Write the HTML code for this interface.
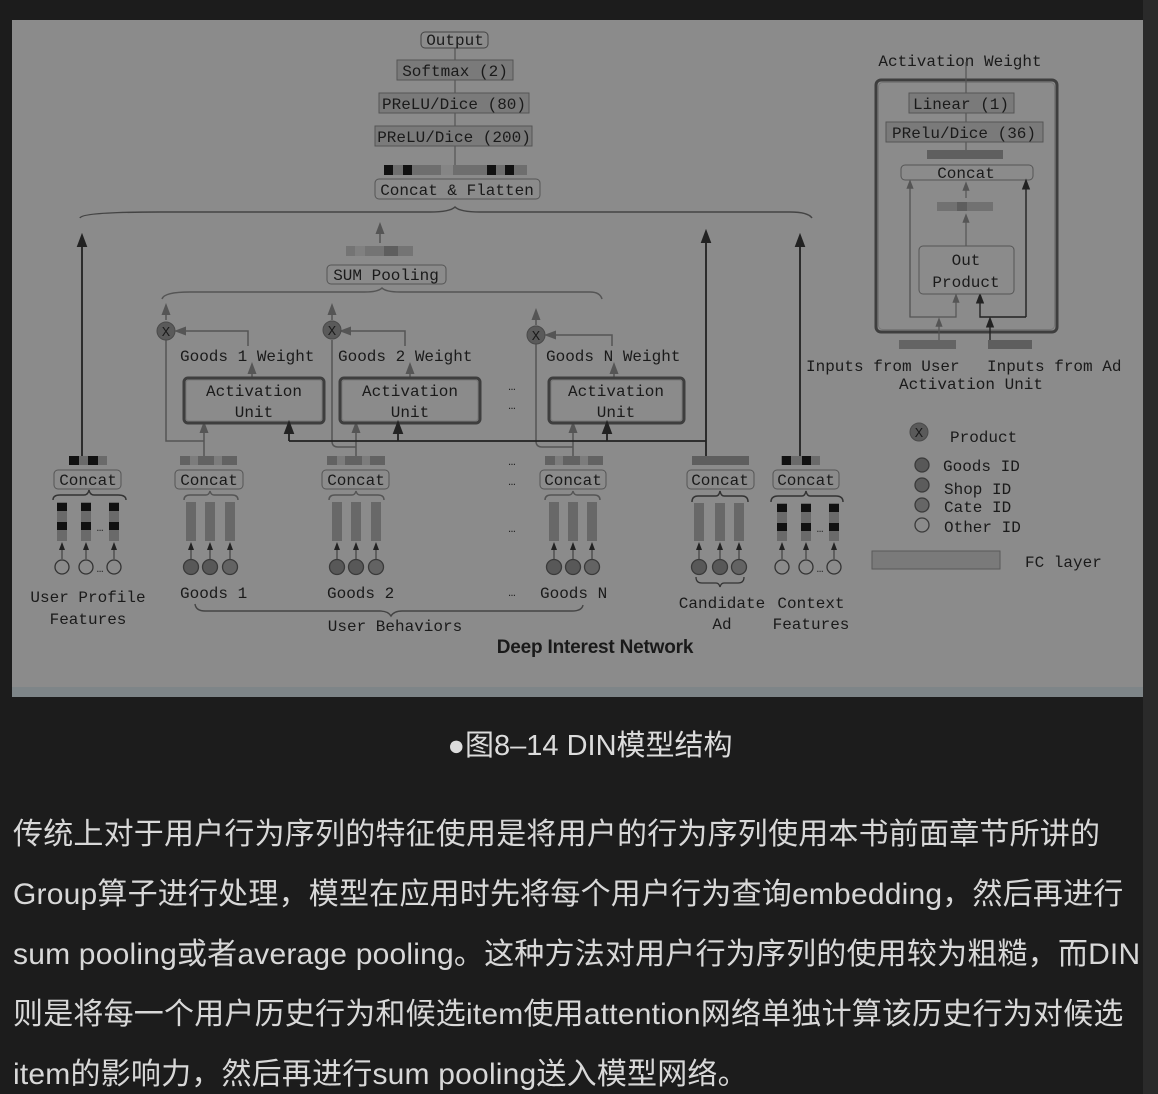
<!DOCTYPE html>
<html><head><meta charset="utf-8">
<style>
html,body{margin:0;padding:0;background:#1c1c1c;width:1158px;height:1094px;overflow:hidden;position:relative}
#strip{position:absolute;left:1143px;top:0;width:15px;height:1094px;background:#2a2a2a}
svg{position:absolute;left:0;top:0}
.cap{position:absolute;left:0;width:1180px;top:722px;text-align:center;color:#dcdcdc;font:29px "Liberation Sans","Noto Sans CJK SC",sans-serif}
.clip{position:absolute;left:13px;top:800px;width:1130px;height:294px;overflow:hidden}
.ln{position:absolute;left:0;white-space:nowrap;color:#d8d8d8;font:30px "Liberation Sans","Noto Sans CJK SC",sans-serif;letter-spacing:0.2px}
</style></head><body>
<div id="strip"></div>
<svg width="1158" height="700" viewBox="0 0 1158 700" font-family="Liberation Mono, monospace" font-size="16" fill="#1a1a1a">
<defs>
<marker id="a" markerWidth="8" markerHeight="8" refX="4" refY="4" orient="auto"><path d="M0,1 L8,4 L0,7z" fill="#222"/></marker>
<marker id="g" markerWidth="8" markerHeight="8" refX="4" refY="4" orient="auto"><path d="M0,1 L8,4 L0,7z" fill="#555"/></marker>
</defs>
<rect x="12" y="20" width="1131" height="677" fill="#8b8b8b"/>
<rect x="12" y="687" width="1131" height="10" fill="#7e8588"/>
<!-- top tower -->
<line x1="455" y1="48" x2="455" y2="165" stroke="#555" stroke-width="1.2"/>
<rect x="421" y="32" width="67" height="16" rx="4" fill="#8b8b8b" stroke="#444"/>
<text x="455" y="45" text-anchor="middle">Output</text>
<rect x="397" y="60" width="116" height="20" fill="#7a7a7a" stroke="#555"/>
<text x="455" y="76" text-anchor="middle">Softmax (2)</text>
<rect x="379" y="93" width="150" height="20" fill="#7a7a7a" stroke="#555"/>
<text x="454" y="109" text-anchor="middle">PReLU/Dice (80)</text>
<rect x="375" y="126" width="157" height="20" fill="#7a7a7a" stroke="#555"/>
<text x="454" y="142" text-anchor="middle">PReLU/Dice (200)</text>
<g>
<rect x="384" y="165" width="143" height="10" fill="#6e6e6e"/>
<rect x="384" y="165" width="9" height="10" fill="#111"/><rect x="403" y="165" width="9" height="10" fill="#111"/>
<rect x="441" y="165" width="12" height="10" fill="#858585"/><rect x="487" y="165" width="9" height="10" fill="#111"/><rect x="505" y="165" width="9" height="10" fill="#111"/>
</g>
<rect x="375" y="179" width="165" height="20" rx="4" fill="#8b8b8b" stroke="#555"/>
<text x="457" y="195" text-anchor="middle">Concat &amp; Flatten</text>
<path d="M80,218 Q82,212 160,212 L430,212 Q450,212 455,207 Q460,212 480,212 L790,212 Q808,212 812,218" fill="none" stroke="#444" stroke-width="1.5"/>
<!-- long arrows -->
<line x1="82" y1="456" x2="82" y2="240" stroke="#222" stroke-width="1.8" marker-end="url(#a)"/>
<line x1="706" y1="456" x2="706" y2="236" stroke="#222" stroke-width="1.8" marker-end="url(#a)"/>
<line x1="800" y1="456" x2="800" y2="240" stroke="#222" stroke-width="1.8" marker-end="url(#a)"/>
<!-- sum pooling -->
<rect x="346" y="246" width="67" height="10" fill="#747474"/>
<rect x="355" y="246" width="10" height="10" fill="#808080"/><rect x="384" y="246" width="14" height="10" fill="#5e5e5e"/>
<line x1="380" y1="243" x2="380" y2="228" stroke="#555" stroke-width="1.5" marker-end="url(#g)"/>
<rect x="327" y="265" width="119" height="19" rx="4" fill="#8b8b8b" stroke="#555"/>
<text x="386" y="280" text-anchor="middle">SUM Pooling</text>
<path d="M162,299 Q164,292 190,292 L365,292 Q378,292 382,288 Q386,292 400,292 L590,292 Q600,292 602,299" fill="none" stroke="#555" stroke-width="1.5"/>
<!-- X circles -->
<g stroke="#555" stroke-width="1.5" fill="none">
<line x1="166" y1="320" x2="166" y2="309" marker-end="url(#g)"/>
<line x1="332" y1="320" x2="332" y2="309" marker-end="url(#g)"/>
<line x1="536" y1="325" x2="536" y2="314" marker-end="url(#g)"/>
<path d="M248,346 L248,331 L180,331" marker-end="url(#g)"/>
<path d="M405,346 L405,331 L345,331" marker-end="url(#g)"/>
<path d="M612,346 L612,335 L550,335" marker-end="url(#g)"/>
<path d="M166,340 L166,441 L204,441"/>
<path d="M332,340 L332,441 Q332,447 338,447 L356,447"/>
<path d="M536,344 L536,441 Q536,447 542,447 L573,447"/>
<line x1="204" y1="456" x2="204" y2="427" marker-end="url(#g)"/>
<line x1="356" y1="456" x2="356" y2="427" marker-end="url(#g)"/>
<line x1="573" y1="456" x2="573" y2="427" marker-end="url(#g)"/>
<line x1="252" y1="378" x2="252" y2="368" marker-end="url(#g)"/>
<line x1="410" y1="378" x2="410" y2="368" marker-end="url(#g)"/>
<line x1="614" y1="378" x2="614" y2="368" marker-end="url(#g)"/>
</g>
<g fill="#5a5a5a" stroke="#4a4a4a"><circle cx="166" cy="331" r="9"/><circle cx="332" cy="330" r="9"/><circle cx="536" cy="335" r="9"/></g>
<g font-size="14" text-anchor="middle"><text x="166" y="336">X</text><text x="332" y="335">X</text><text x="536" y="340">X</text></g>
<text x="180" y="361">Goods 1 Weight</text>
<text x="338" y="361">Goods 2 Weight</text>
<text x="546" y="361">Goods N Weight</text>
<g fill="none" stroke="#3e3e3e" stroke-width="3">
<rect x="184" y="378" width="140" height="45" rx="4"/><rect x="340" y="378" width="140" height="45" rx="4"/><rect x="549" y="378" width="135" height="45" rx="4"/>
</g>
<g fill="none" stroke="#7a7a7a" stroke-width="1">
<rect x="186" y="380" width="136" height="41" rx="3"/><rect x="342" y="380" width="136" height="41" rx="3"/><rect x="551" y="380" width="131" height="41" rx="3"/>
</g>
<g text-anchor="middle"><text x="254" y="396">Activation</text><text x="254" y="417">Unit</text>
<text x="410" y="396">Activation</text><text x="410" y="417">Unit</text>
<text x="616" y="396">Activation</text><text x="616" y="417">Unit</text></g>
<!-- black line -->
<path d="M289,441 L706,441" stroke="#222" stroke-width="1.8"/>
<g stroke="#222" stroke-width="1.8"><line x1="289" y1="441" x2="289" y2="427" marker-end="url(#a)"/><line x1="398" y1="441" x2="398" y2="427" marker-end="url(#a)"/><line x1="607" y1="441" x2="607" y2="427" marker-end="url(#a)"/></g>
<!-- dots -->
<g font-size="12" text-anchor="middle"><text x="512" y="390">…</text><text x="512" y="409">…</text><text x="512" y="465">…</text><text x="512" y="485">…</text><text x="512" y="532">…</text><text x="512" y="596">…</text></g>
<!-- concat strips -->
<g>
<rect x="69" y="456" width="38" height="9" fill="#6a6a6a"/><rect x="69" y="456" width="10" height="9" fill="#111"/><rect x="88" y="456" width="10" height="9" fill="#111"/>
<rect x="180" y="456" width="57" height="9" fill="#626262"/><rect x="190" y="456" width="8" height="9" fill="#7c7c7c"/><rect x="214" y="456" width="8" height="9" fill="#7c7c7c"/>
<rect x="327" y="456" width="58" height="9" fill="#626262"/><rect x="337" y="456" width="8" height="9" fill="#7c7c7c"/><rect x="362" y="456" width="8" height="9" fill="#7c7c7c"/>
<rect x="545" y="456" width="58" height="9" fill="#626262"/><rect x="555" y="456" width="8" height="9" fill="#7c7c7c"/><rect x="580" y="456" width="8" height="9" fill="#7c7c7c"/>
<rect x="692" y="456" width="57" height="9" fill="#5e5e5e"/>
<rect x="781" y="456" width="39" height="9" fill="#6a6a6a"/><rect x="782" y="456" width="9" height="9" fill="#111"/><rect x="802" y="456" width="9" height="9" fill="#111"/>
</g>
<g fill="#8b8b8b" stroke="#555">
<rect x="54" y="470" width="67" height="19" rx="4"/><rect x="175" y="470" width="68" height="19" rx="4"/><rect x="322" y="470" width="67" height="19" rx="4"/><rect x="540" y="470" width="66" height="19" rx="4"/><rect x="687" y="470" width="67" height="19" rx="4"/><rect x="773" y="470" width="66" height="19" rx="4"/>
</g>
<g text-anchor="middle"><text x="88" y="485">Concat</text><text x="209" y="485">Concat</text><text x="356" y="485">Concat</text><text x="573" y="485">Concat</text><text x="720" y="485">Concat</text><text x="806" y="485">Concat</text></g>
<!-- small braces -->
<g fill="none" stroke="#333" stroke-width="1.5">
<path d="M53,500 Q53,495 60,495 L84,495 Q88,495 89,490 Q90,495 94,495 L118,495 Q126,495 126,500"/>
<path d="M184,500 Q184,495 190,495 L206,495 Q209,495 210,491 Q211,495 214,495 L232,495 Q238,495 238,500" stroke="#555"/>
<path d="M329,500 Q329,495 335,495 L352,495 Q355,495 356,491 Q357,495 360,495 L378,495 Q384,495 384,500" stroke="#555"/>
<path d="M545,500 Q545,495 551,495 L569,495 Q572,495 573,491 Q574,495 577,495 L594,495 Q600,495 600,500" stroke="#555"/>
<path d="M692,502 Q692,496 698,496 L716,496 Q719,496 720,491 Q721,496 724,496 L742,496 Q748,496 748,502"/>
<path d="M771,502 Q771,496 778,496 L802,496 Q805,496 806,491 Q807,496 810,496 L836,496 Q843,496 843,502"/>
</g>
<!-- bars -->
<g>
<g fill="#6a6a6a"><rect x="57" y="502" width="10" height="39"/><rect x="81" y="502" width="10" height="39"/><rect x="109" y="502" width="10" height="39"/><rect x="777" y="503" width="10" height="38"/><rect x="801" y="503" width="10" height="38"/><rect x="829" y="503" width="10" height="38"/></g>
<g fill="#111"><rect x="57" y="503" width="10" height="8"/><rect x="57" y="522" width="10" height="8"/><rect x="81" y="503" width="10" height="8"/><rect x="81" y="522" width="10" height="8"/><rect x="109" y="503" width="10" height="8"/><rect x="109" y="522" width="10" height="8"/>
<rect x="777" y="504" width="10" height="8"/><rect x="777" y="523" width="10" height="8"/><rect x="801" y="504" width="10" height="8"/><rect x="801" y="523" width="10" height="8"/><rect x="829" y="504" width="10" height="8"/><rect x="829" y="523" width="10" height="8"/></g>
<g fill="#686868"><rect x="186" y="502" width="10" height="39"/><rect x="205" y="502" width="10" height="39"/><rect x="225" y="502" width="10" height="39"/>
<rect x="332" y="502" width="10" height="39"/><rect x="351" y="502" width="10" height="39"/><rect x="371" y="502" width="10" height="39"/>
<rect x="549" y="502" width="10" height="39"/><rect x="568" y="502" width="10" height="39"/><rect x="587" y="502" width="10" height="39"/>
<rect x="694" y="503" width="10" height="38"/><rect x="715" y="503" width="10" height="38"/><rect x="734" y="503" width="10" height="38"/></g>
</g>
<g font-size="11" text-anchor="middle"><text x="100" y="531">…</text><text x="820" y="532">…</text><text x="100" y="572">…</text><text x="820" y="572">…</text></g>
<!-- small arrows & circles -->
<g stroke="#333" stroke-width="1">
<line x1="62" y1="559" x2="62" y2="546" marker-end="url(#a)"/><line x1="86" y1="559" x2="86" y2="546" marker-end="url(#a)"/><line x1="114" y1="559" x2="114" y2="546" marker-end="url(#a)"/>
<line x1="191" y1="559" x2="191" y2="546" marker-end="url(#a)"/><line x1="210" y1="559" x2="210" y2="546" marker-end="url(#a)"/><line x1="230" y1="559" x2="230" y2="546" marker-end="url(#a)"/>
<line x1="337" y1="559" x2="337" y2="546" marker-end="url(#a)"/><line x1="356" y1="559" x2="356" y2="546" marker-end="url(#a)"/><line x1="376" y1="559" x2="376" y2="546" marker-end="url(#a)"/>
<line x1="554" y1="559" x2="554" y2="546" marker-end="url(#a)"/><line x1="573" y1="559" x2="573" y2="546" marker-end="url(#a)"/><line x1="592" y1="559" x2="592" y2="546" marker-end="url(#a)"/>
<line x1="699" y1="559" x2="699" y2="546" marker-end="url(#a)"/><line x1="720" y1="559" x2="720" y2="546" marker-end="url(#a)"/><line x1="739" y1="559" x2="739" y2="546" marker-end="url(#a)"/>
<line x1="782" y1="559" x2="782" y2="546" marker-end="url(#a)"/><line x1="806" y1="559" x2="806" y2="546" marker-end="url(#a)"/><line x1="834" y1="559" x2="834" y2="546" marker-end="url(#a)"/>
</g>
<g stroke="#333" stroke-width="1.3" fill="none"><circle cx="62" cy="567" r="7"/><circle cx="86" cy="567" r="7"/><circle cx="114" cy="567" r="7"/><circle cx="782" cy="567" r="7"/><circle cx="806" cy="567" r="7"/><circle cx="834" cy="567" r="7"/></g>
<g stroke="#3a3a3a" stroke-width="1.3" fill="#585858">
<circle cx="191" cy="567" r="7.5"/><circle cx="210" cy="567" r="7.5"/><circle cx="230" cy="567" r="7.5" fill="#636363"/>
<circle cx="337" cy="567" r="7.5"/><circle cx="356" cy="567" r="7.5"/><circle cx="376" cy="567" r="7.5" fill="#636363"/>
<circle cx="554" cy="567" r="7.5"/><circle cx="573" cy="567" r="7.5"/><circle cx="592" cy="567" r="7.5" fill="#636363"/>
<circle cx="699" cy="567" r="7.5"/><circle cx="720" cy="567" r="7.5"/><circle cx="739" cy="567" r="7.5" fill="#636363"/>
</g>
<path d="M696,577 Q696,583 702,583 L716,583 Q719,583 720,587 Q721,583 724,583 L738,583 Q744,583 744,577" fill="none" stroke="#333" stroke-width="1.3"/>
<g text-anchor="middle"><text x="88" y="602">User Profile</text><text x="88" y="624">Features</text>
<text x="722" y="608">Candidate</text><text x="722" y="629">Ad</text>
<text x="811" y="608">Context</text><text x="811" y="629">Features</text>
<text x="395" y="631">User Behaviors</text></g>
<text x="180" y="598">Goods 1</text><text x="327" y="598">Goods 2</text><text x="540" y="598">Goods N</text>
<path d="M195,604 Q196,611 205,611 L380,611 Q388,611 391,616 Q394,611 402,611 L572,611 Q582,611 583,605" fill="none" stroke="#444" stroke-width="1.4"/>
<text x="595" y="653" text-anchor="middle" font-family="Liberation Sans, sans-serif" font-weight="bold" font-size="19" letter-spacing="-0.2">Deep Interest Network</text>
<!-- right: activation unit -->
<text x="960" y="66" text-anchor="middle">Activation Weight</text>
<rect x="876" y="80" width="181" height="252" rx="5" fill="none" stroke="#3e3e3e" stroke-width="3"/>
<rect x="878.5" y="82.5" width="176" height="247" rx="4" fill="none" stroke="#777"/>
<line x1="966" y1="150" x2="966" y2="62" stroke="#555" stroke-width="1.2"/>
<rect x="909" y="93" width="105" height="20" fill="#7a7a7a" stroke="#555"/>
<text x="961" y="109" text-anchor="middle">Linear (1)</text>
<rect x="886" y="122" width="157" height="20" fill="#7a7a7a" stroke="#555"/>
<text x="964" y="138" text-anchor="middle">PRelu/Dice (36)</text>
<rect x="927" y="150" width="76" height="9" fill="#5f5f5f"/>
<rect x="901" y="165" width="132" height="15" rx="4" fill="#8b8b8b" stroke="#555"/>
<text x="966" y="178" text-anchor="middle">Concat</text>
<rect x="937" y="202" width="56" height="9" fill="#717171"/><rect x="957" y="202" width="10" height="9" fill="#5e5e5e"/>
<g stroke="#555" stroke-width="1.2" fill="none">
<line x1="966" y1="198" x2="966" y2="186" marker-end="url(#g)"/>
<line x1="966" y1="246" x2="966" y2="218" marker-end="url(#g)"/>
<path d="M939,340 L939,322" marker-end="url(#g)"/>
<path d="M910,184 L910,317 L956,317 L956,298" marker-end="url(#g)"/>
<path d="M910,317 L910,184" marker-end="url(#g)"/>
</g>
<g stroke="#222" stroke-width="1.4" fill="none">
<path d="M990,340 L990,322" marker-end="url(#a)"/>
<path d="M1026,317 L980,317 L980,298" marker-end="url(#a)"/>
<path d="M1026,317 L1026,184" marker-end="url(#a)"/>
</g>
<rect x="919" y="246" width="95" height="48" rx="4" fill="#8b8b8b" stroke="#555"/>
<text x="966" y="265" text-anchor="middle">Out</text><text x="966" y="287" text-anchor="middle">Product</text>
<rect x="899" y="340" width="57" height="9" fill="#646464"/><rect x="988" y="340" width="44" height="9" fill="#5e5e5e"/>
<text x="806" y="371">Inputs from User</text>
<text x="987" y="371">Inputs from Ad</text>
<text x="971" y="389" text-anchor="middle">Activation Unit</text>
<!-- legend -->
<circle cx="919" cy="432" r="9" fill="#5a5a5a" stroke="#4a4a4a"/>
<text x="919" y="437" text-anchor="middle" font-size="14">X</text>
<text x="950" y="442">Product</text>
<g stroke="#3a3a3a" stroke-width="1.3"><circle cx="922" cy="465" r="7" fill="#585858"/><circle cx="922" cy="485" r="7" fill="#5c5c5c"/><circle cx="922" cy="505" r="7" fill="#666"/><circle cx="922" cy="525" r="7" fill="none"/></g>
<text x="943" y="471">Goods ID</text><text x="944" y="494">Shop ID</text><text x="944" y="512">Cate ID</text><text x="944" y="532">Other ID</text>
<rect x="872" y="551" width="128" height="18" fill="#7a7a7a" stroke="#5a5a5a"/>
<text x="1025" y="567">FC layer</text>
</svg>
<div class="cap">●图8–14 DIN模型结构</div>
<div class="clip">
<div class="ln" style="top:9px">传统上对于用户行为序列的特征使用是将用户的行为序列使用本书前面章节所讲的</div>
<div class="ln" style="top:69px">Group算子进行处理，模型在应用时先将每个用户行为查询embedding，然后再进行</div>
<div class="ln" style="top:129px">sum pooling或者average pooling。这种方法对用户行为序列的使用较为粗糙，而DIN</div>
<div class="ln" style="top:189px">则是将每一个用户历史行为和候选item使用attention网络单独计算该历史行为对候选</div>
<div class="ln" style="top:249px">item的影响力，然后再进行sum pooling送入模型网络。</div>
</div>
</body></html>
